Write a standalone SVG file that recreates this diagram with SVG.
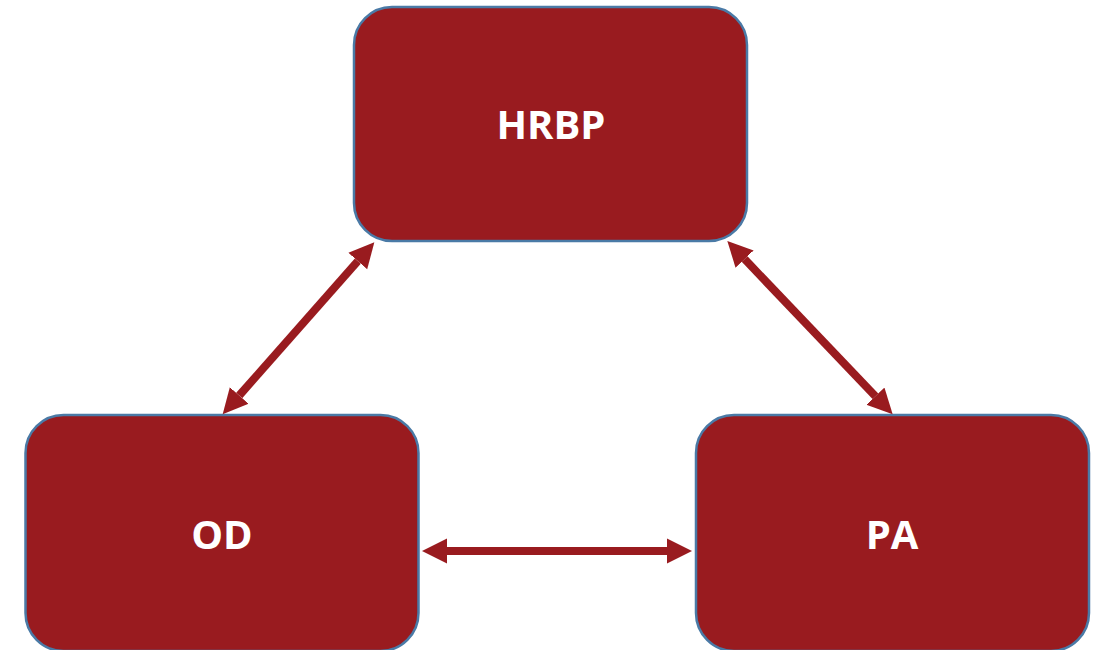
<svg xmlns="http://www.w3.org/2000/svg" width="1102" height="650" viewBox="0 0 1102 650">
<style>
.box{fill:#991b1f;stroke:#4a7aa6;stroke-width:2.5}
.lbl{fill:#ffffff;font-family:"Open Sans","Liberation Sans",sans-serif;font-weight:700;font-size:40px;text-anchor:middle}
.conn{stroke:#991b1f;stroke-width:8;fill:none;marker-start:url(#ah);marker-end:url(#ah)}
</style>
<defs>
<marker id="ah" markerUnits="userSpaceOnUse" markerWidth="26" markerHeight="26" refX="0" refY="12.5" orient="auto-start-reverse" viewBox="0 0 26 25">
<path d="M0,0 L25,12.5 L0,25 z" fill="#991b1f"/>
</marker>
</defs>
<rect width="1102" height="650" fill="#ffffff"/>
<g id="node-hrbp">
<rect class="box" x="354" y="7" width="393" height="234" rx="38" ry="38"/>
<text class="lbl" x="551" y="139">HRBP</text>
</g>
<g id="node-od">
<rect class="box" x="25.5" y="415" width="393" height="236" rx="38" ry="38"/>
<text class="lbl" x="222" y="549">OD</text>
</g>
<g id="node-pa">
<rect class="box" x="696" y="415" width="393" height="236" rx="38" ry="38"/>
<text class="lbl" x="892" y="549">PA</text>
</g>
<g id="connectors">
<line class="conn" x1="239.2" y1="395.5" x2="357.8" y2="261.1"/>
<line class="conn" x1="744.6" y1="259.1" x2="875.4" y2="396.2"/>
<line class="conn" x1="447" y1="551" x2="667" y2="551"/>
</g>
</svg>
